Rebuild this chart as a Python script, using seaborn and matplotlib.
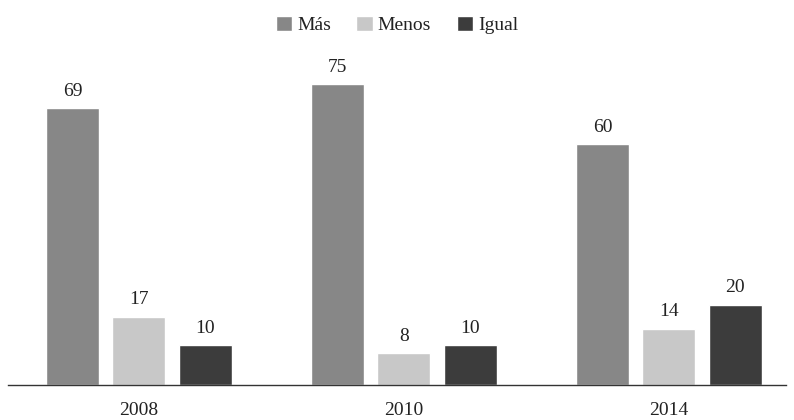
import matplotlib
matplotlib.use('Agg')
import matplotlib.pyplot as plt
import seaborn as sns
import pandas as pd

years = ['2008', '2010', '2014']
series = ['Más', 'Menos', 'Igual']
mas = [69, 75, 60]
menos = [17, 8, 14]
igual = [10, 10, 20]
colors = ['#878787', '#c8c8c8', '#3c3c3c']

df = pd.DataFrame({
	'year': years * 3,
	'serie': [s for s in series for _ in years],
	'value': mas + menos + igual,
})

sns.set_theme(style='white')
plt.rcParams['font.family'] = ['Liberation Serif', 'DejaVu Serif']

fig = plt.figure(figsize=(7.94, 4.2), dpi=100)
ax = fig.add_axes([8/794, 35/420, 778/794, 321/420])
sns.barplot(data=df, x='year', y='value', hue='serie', hue_order=series,
	palette=colors, width=0.75, gap=0.2, saturation=1, ax=ax, legend=True)

for cont in ax.containers:
	ax.bar_label(cont, padding=6, fontsize=14, color='#222222')

ax.set_xlim(-0.494, 2.442)
ax.set_ylim(0, 80)
ax.set_xlabel('')
ax.set_ylabel('')
ax.set_yticks([])
sns.despine(ax=ax, left=True)
ax.spines['bottom'].set_color('#333333')
ax.spines['bottom'].set_linewidth(1)
ax.tick_params(axis='x', length=0, pad=12, labelsize=14, colors='#222222')

h, l = ax.get_legend_handles_labels()
ax.legend(h, l, loc='upper center', bbox_to_anchor=(0.5, 1.205), ncol=3, frameon=False,
	fontsize=14, handlelength=0.85, handleheight=0.85, handletextpad=0.25, columnspacing=1.3,
	labelcolor='#222222')

fig.savefig('out.png', dpi=100)
